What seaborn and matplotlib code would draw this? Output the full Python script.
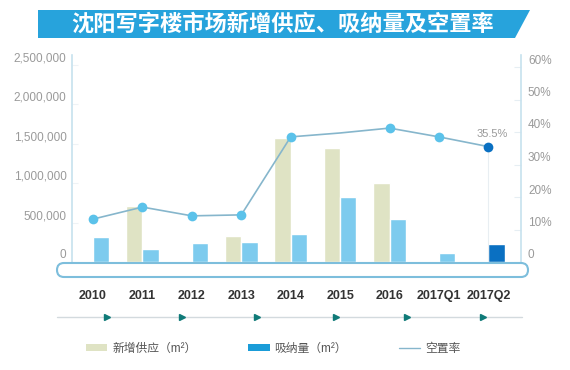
import numpy as np
import pandas as pd
import matplotlib
matplotlib.use("Agg")
import matplotlib.pyplot as plt
import seaborn as sns
from matplotlib.patches import Polygon, FancyBboxPatch, Patch
from matplotlib.lines import Line2D
from matplotlib.transforms import IdentityTransform, ScaledTranslation

# ---------------- data ----------------
title = "沈阳写字楼市场新增供应、吸纳量及空置率"
categories = ["2010", "2011", "2012", "2013", "2014", "2015", "2016", "2017Q1", "2017Q2"]
supply = [0, 711000, 0, 330000, 1574000, 1447000, 1003000, 0, 0]
absorption = [317000, 165000, 241000, 254000, 355000, 825000, 546000, 114000, 228000]
vacancy = [13.2, 16.9, 14.2, 14.5, 38.5, 39.7, 41.2, 38.5, 35.5]
series_names = ["新增供应（m²）", "吸纳量（m²）", "空置率"]
left_ticks = [0, 500000, 1000000, 1500000, 2000000, 2500000]
right_ticks = [0, 10, 20, 30, 40, 50, 60]
vacancy_label = "35.5%"

# ---------------- colours ----------------
supply_c = "#dfe3c4"
abs_c = "#7dcbee"
abs_last_c = "#0a70c2"
abs_legend_c = "#1a9cd8"
line_c = "#86b6cc"
marker_c = "#5bc2ea"
spine_c = "#c6e1ee"
banner_c = "#27a3dc"
tick_txt = "#9a9a9a"

df = pd.DataFrame({
    "category": categories * 2,
    "value": supply + absorption,
    "series": [series_names[0]] * len(categories) + [series_names[1]] * len(categories),
})

sns.set_style("white")
plt.rcParams["font.family"] = ["Liberation Sans", "Noto Sans CJK SC", "DejaVu Sans"]

fig = plt.figure(figsize=(5.7, 3.7), dpi=100)
ax = fig.add_axes([72 / 570, 108 / 370, 449 / 570, 207 / 370])

sns.barplot(data=df, x="category", y="value", hue="series", order=categories,
            hue_order=series_names[:2], palette=[supply_c, abs_c], width=0.66,
            saturation=1, legend=False, errorbar=None, ax=ax)
ax.containers[1][len(categories) - 1].set_facecolor(abs_last_c)

ax2 = ax.twinx()
x = np.arange(len(categories))
marker_idx = [i for i in range(len(categories) - 1) if i != 5]
# faint drop line under last point
ax2.plot([x[-1], x[-1]], [0, vacancy[-1]], color="#e8eef2", lw=0.8, zorder=1)
sns.lineplot(x=x, y=vacancy, ax=ax2, color=line_c, lw=1.2, marker="o",
             markevery=marker_idx, markersize=7, markerfacecolor=marker_c,
             markeredgewidth=0, markeredgecolor=marker_c, zorder=3)
ax2.plot(x[-1:], vacancy[-1:], "o", color=abs_last_c, markersize=7, mew=0, zorder=4)
ax2.annotate(vacancy_label, (x[-1], vacancy[-1]), xytext=(4, 13),
             textcoords="offset pixels", ha="center", va="center",
             fontsize=8, color=tick_txt)

ax.set_xlim(-0.425, 8.66)
ax.set_ylim(0, 207 / 78.8 * 1e6)
ax2.set_ylim(0, 207 / 3.25)

ax.set_yticks(left_ticks)
ax.set_yticklabels([f"{v:,}" for v in left_ticks])
ax2.set_yticks(right_ticks)
ax2.set_yticklabels(["0"] + [f"{v}%" for v in right_ticks[1:]])
ax.set_xlabel("")
ax.set_ylabel("")
ax2.set_xlabel("")
ax2.set_ylabel("")

ax.tick_params(axis="y", direction="in", length=4, color="#eef3f6",
               labelcolor=tick_txt, labelsize=8.5, pad=4)
ax2.tick_params(axis="y", direction="in", length=5, color="#e6eef3",
                labelcolor=tick_txt, labelsize=8.5, pad=5)
ax.tick_params(axis="x", length=0, pad=20, labelsize=9, labelcolor="#333333")
for lbl in ax.get_xticklabels():
    lbl.set_fontweight("bold")

for a in (ax, ax2):
    a.spines["top"].set_visible(False)
    a.spines["bottom"].set_visible(False)
ax.spines["right"].set_visible(False)
ax2.spines["left"].set_visible(False)
ax.spines["left"].set_color(spine_c)
ax2.spines["right"].set_color(spine_c)
ax.spines["left"].set_linewidth(1.2)
ax2.spines["right"].set_linewidth(1.2)
ax.patch.set_alpha(0)
ax2.patch.set_alpha(0)

off = ScaledTranslation(0, 0.08, fig.dpi_scale_trans)
for t in ax.yaxis.get_major_ticks():
    t.label1.set_transform(t.label1.get_transform() + off)
for t in ax2.yaxis.get_major_ticks():
    t.label2.set_transform(t.label2.get_transform() + off)

# rounded bar under the axis
fig.add_artist(FancyBboxPatch((57, 93), 471, 14, boxstyle="round,pad=0,rounding_size=7",
                              fc="white", ec="#7dbedc", lw=1.5, transform=IdentityTransform()))
# arrow timeline
fig.add_artist(Line2D([57, 522], [53, 53], color="#d3dade", lw=1, transform=IdentityTransform()))
fig.add_artist(Line2D([107, 182, 257, 336, 407, 483], [53] * 6, ls="none", marker=">",
                      ms=5, color="#0f7a78", transform=IdentityTransform()))

# title banner
fig.add_artist(Polygon([[38, 332], [38, 360], [530, 360], [515, 332]], closed=True,
                       fc=banner_c, ec="none", transform=IdentityTransform()))
fig.text(283 / 570, 346 / 370, title, ha="center", va="center", color="white",
         fontsize=16, fontweight="bold", family=["Noto Sans CJK SC", "DejaVu Sans"])

handles = [Patch(fc=supply_c, ec="none"), Patch(fc=abs_legend_c, ec="none"),
           Line2D([], [], color=line_c, lw=1)]
fig.legend(handles, series_names, loc="center", bbox_to_anchor=(273 / 570, 21 / 370),
           ncol=3, frameon=False, fontsize=8.5, handlelength=1.8, handleheight=0.5,
           handletextpad=0.4, columnspacing=4.4, labelcolor="#555555")

fig.savefig("out.png", dpi=100)
